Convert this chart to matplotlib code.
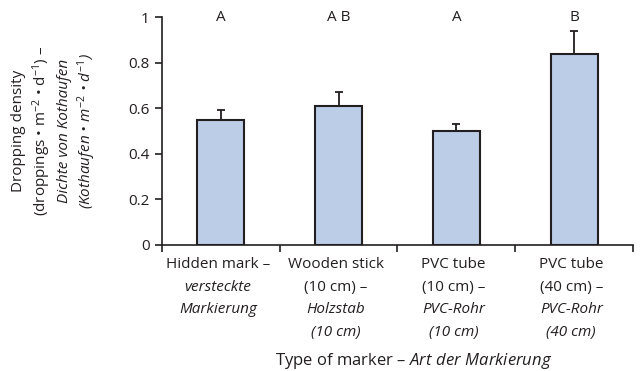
import numpy as np
import matplotlib.pyplot as plt
from matplotlib import rcParams

rcParams.update({'font.family': 'Open Sans', 'font.size': 11,
                 'mathtext.fontset': 'custom',
                 'mathtext.rm': 'Open Sans',
                 'mathtext.it': 'Open Sans:italic'})

# data
means = [0.55, 0.61, 0.50, 0.84]
upper_err = [0.04, 0.06, 0.03, 0.10]
letters = ['A', 'A B', 'A', 'B']
# category labels: (text, italic?) line by line
cat_lines = [
    [('Hidden mark –', False), ('versteckte', True), ('Markierung', True)],
    [('Wooden stick', False), ('(10 cm) –', False), ('Holzstab', True), ('(10 cm)', True)],
    [('PVC tube', False), ('(10 cm) –', False), ('PVC-Rohr', True), ('(10 cm)', True)],
    [('PVC tube', False), ('(40 cm) –', False), ('PVC-Rohr', True), ('(40 cm)', True)],
]
yticks = [0, 0.2, 0.4, 0.6, 0.8, 1]
ytick_labels = ['0', '0.2', '0.4', '0.6', '0.8', '1']

ind = np.arange(len(means))
width = 0.4
dark = '#231f20'

fig = plt.figure(figsize=(6.4, 3.71), dpi=100)
ax = fig.add_axes([0.253, 0.340, 0.736, 0.614])

ax.bar(ind, means, width, color='#bccde8', edgecolor=dark, linewidth=1.5, zorder=2)
ax.errorbar(ind, means, yerr=[[0] * len(means), upper_err], fmt='none',
            ecolor=dark, elinewidth=1.3, capsize=3.2, capthick=1.3, zorder=1)

for i, s in enumerate(letters):
    ax.text(i, 1.0, s, ha='center', va='center', fontsize=11, color=dark)

ax.set_xlim(-0.5, len(means) - 0.5)
ax.set_ylim(0, 1)
ax.set_xticks(np.arange(-0.5, len(means), 1.0))
ax.set_xticklabels([])
ax.set_yticks(yticks)
ax.set_yticklabels(ytick_labels)
ax.tick_params(axis='both', direction='out', length=5, width=1.2, color=dark,
               labelcolor=dark, labelsize=11)
ax.tick_params(axis='y', pad=4)
for s in ('top', 'right'):
    ax.spines[s].set_visible(False)
for s in ('left', 'bottom'):
    ax.spines[s].set_linewidth(1.2)
    ax.spines[s].set_color(dark)

# category labels under the axis
for i, lines in enumerate(cat_lines):
    for k, (txt, it) in enumerate(lines):
        ax.annotate(txt, xy=(i, 0), xycoords=('data', 'axes fraction'),
                    xytext=(-2, -(20 + 22.5 * k) * 0.72), textcoords='offset points',
                    ha='center', va='center', fontsize=11,
                    style='italic' if it else 'normal', color=dark)

# x axis title, mixed upright / italic
fig.text(0.647, 0.028, 'Type of marker – $\\mathit{Art\\ der\\ Markierung}$',
         ha='center', va='center', fontsize=12, color=dark)

# y axis title, four rotated lines
ylines = [
    ('Dropping density', 'normal'),
    ('(droppings • m$^{-2}$ • d$^{-1}$) –', 'normal'),
    ('Dichte von Kothaufen', 'italic'),
    ('(Kothaufen • $\\mathit{m}^{-2}$ • $\\mathit{d}^{-1}$)', 'italic'),
]
for k, (txt, st) in enumerate(ylines):
    fig.text((19 + 22.5 * k) / 640, 1 - 131 / 371, txt, rotation=90,
             ha='center', va='center', fontsize=11, style=st, color=dark)

fig.savefig('out.png', dpi=100)
